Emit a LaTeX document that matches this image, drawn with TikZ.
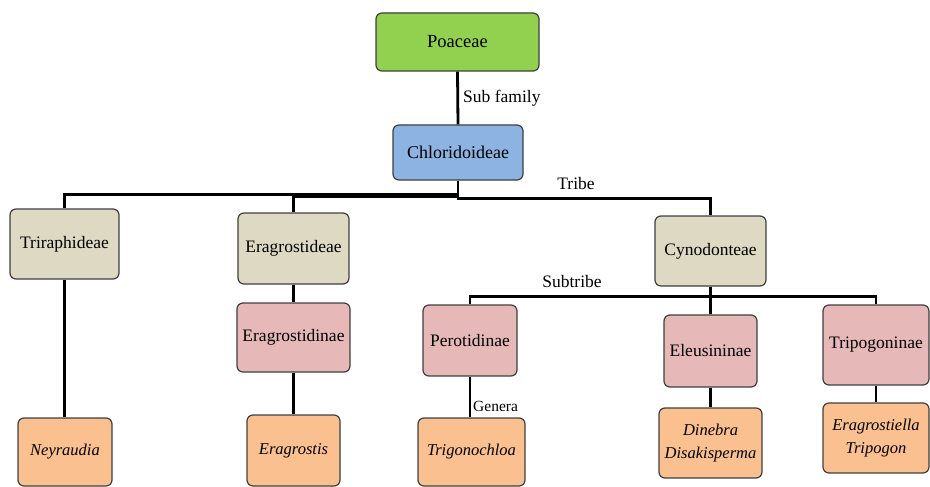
\documentclass[tikz,border=0pt]{standalone}
\usepackage{fontspec}
\setmainfont{Liberation Serif}
\definecolor{cgreen}{HTML}{92D050}
\definecolor{cblue}{HTML}{8DB3E2}
\definecolor{ctan}{HTML}{DDD9C3}
\definecolor{cpink}{HTML}{E6B9B8}
\definecolor{corange}{HTML}{FAC090}
\definecolor{cborder}{HTML}{3F3F3F}
\begin{document}
\begin{tikzpicture}[x=1pt,y=-1pt,
  box/.style={draw=cborder, line width=1.2pt, rounded corners=6pt, align=center,
    inner sep=0pt, font=\fontsize{17.5}{23}\selectfont},
  genus/.style={box, fill=corange, font=\fontsize{16.5}{23}\selectfont\itshape},
  conn/.style={line width=2.8pt, black},
  lbl/.style={font=\fontsize{17.5}{20}\selectfont, inner sep=0pt}]
\useasboundingbox (0,0) rectangle (930,487);
% nodes
\node[box, fill=cgreen, minimum width=163pt, minimum height=58pt, font=\fontsize{18.5}{22}\selectfont] (poa) at (457.5,42) {Poaceae};
\node[box, fill=cblue, minimum width=130pt, minimum height=55pt, font=\fontsize{18}{22}\selectfont] (chl) at (458,152.5) {Chloridoideae};
\node[box, fill=ctan, minimum width=109pt, minimum height=70pt] (tri) at (64.5,244) {Triraphideae};
\node[box, fill=ctan, minimum width=111pt, minimum height=71pt] (erg) at (293.5,248.5) {Eragrostideae};
\node[box, fill=ctan, minimum width=111pt, minimum height=70pt] (cyn) at (710.5,251) {Cynodonteae};
\node[box, fill=cpink, minimum width=113pt, minimum height=69pt] (egn) at (293.5,337.5) {Eragrostidinae};
\node[box, fill=cpink, minimum width=94pt, minimum height=71pt] (per) at (470,340.5) {Perotidinae};
\node[box, fill=cpink, minimum width=93pt, minimum height=72pt] (ele) at (710.5,351) {Eleusininae};
\node[box, fill=cpink, minimum width=106pt, minimum height=80pt] (trp) at (876,345) {Tripogoninae};
\node[genus, minimum width=94pt, minimum height=68pt] (ney) at (65,452) {Neyraudia};
\node[genus, minimum width=93pt, minimum height=71pt] (egs) at (293.5,450.5) {Eragrostis};
\node[genus, minimum width=107pt, minimum height=68pt] (tgn) at (471.5,452) {Trigonochloa};
\node[genus, minimum width=103pt, minimum height=70pt] (din) at (710.5,443) {Dinebra\\Disakisperma};
\node[genus, minimum width=106pt, minimum height=70pt] (erl) at (876,438) {Eragrostiella\\Tripogon};
% connectors
\draw[conn] (poa.south) -- (chl.north);
\draw[conn] (chl.south) -- ++(0,14) -| (tri.north);
\draw[conn] (chl.south) -- ++(0,16) -| (erg.north);
\draw[conn] (chl.south) -- ++(0,18) -| (cyn.north);
\draw[conn] (erg.south) -- (egn.north);
\draw[conn] (cyn.south) -- ++(0,10) -| (per.north);
\draw[conn] (cyn.south) -- (ele.north);
\draw[conn] (cyn.south) -- ++(0,10) -| (trp.north);
\draw[conn] (tri.south) -- (tri.south |- ney.north);
\draw[conn] (egn.south) -- (egs.north);
\draw[conn] (per.south) -- (per.south |- tgn.north);
\draw[conn] (ele.south) -- (din.north);
\draw[conn] (trp.south) -- (erl.north);
% labels
\node[lbl, anchor=west] (lsub) at (463,98) {Sub family};
\node[lbl] (ltribe) at (576,184) {Tribe};
\node[lbl] (lsubt) at (572,282) {Subtribe};
\node[lbl, anchor=west, font=\fontsize{15.5}{18}\selectfont] (lgen) at (473,406) {Genera};
\end{tikzpicture}
\end{document}
